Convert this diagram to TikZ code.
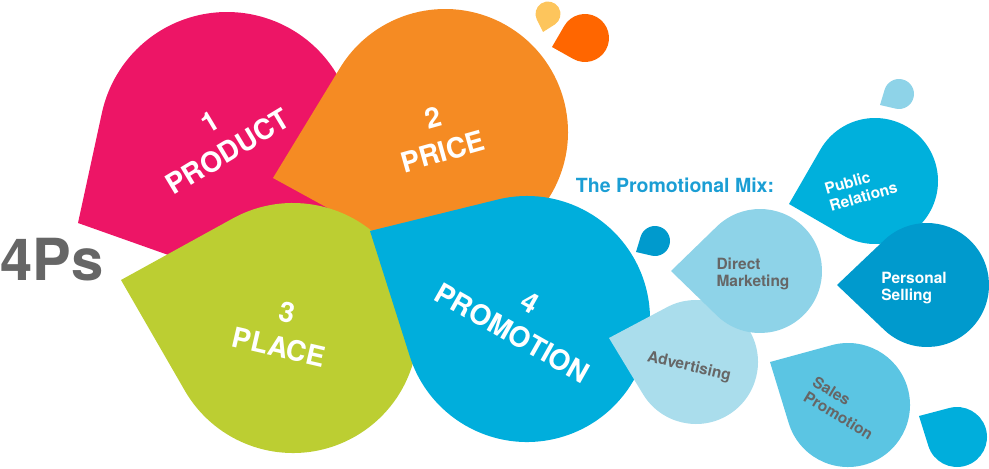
\documentclass[tikz,border=0pt]{standalone}
\usepackage{fontspec}
\setmainfont{TeX Gyre Heros}
\usetikzlibrary{calc}
\definecolor{productpink}{HTML}{ED1566}
\definecolor{priceorange}{HTML}{F58B23}
\definecolor{placegreen}{HTML}{BCCE32}
\definecolor{promoblue}{HTML}{00AEDC}
\definecolor{dropyellow}{HTML}{FDC55C}
\definecolor{droporange}{HTML}{FF6600}
\definecolor{paleblue}{HTML}{8ED3E8}
\definecolor{prblue}{HTML}{00B0DC}
\definecolor{darkblue}{HTML}{009ACD}
\definecolor{advblue}{HTML}{AADDEC}
\definecolor{salesblue}{HTML}{5BC5E3}
\definecolor{textgray}{HTML}{666666}
\definecolor{titleblue}{HTML}{1B9ED4}
\tikzstyle{bigdrop}=[text=white,font=\bfseries\fontsize{28}{35}\selectfont,align=center,inner sep=0pt]
\tikzstyle{mixdrop}=[font=\bfseries\fontsize{15.5}{17.5}\selectfont,align=left,inner sep=0pt]

\begin{document}
\begin{tikzpicture}[x=1pt,y=1pt]

\useasboundingbox (0,0) rectangle (989,469);

    % Draw the drops: circle centre, radius, tip, colour
  \foreach \cx/\cy/\r/\tx/\ty/\col in {227/329/128/78/246/productpink, 445/337/123/273/291/priceorange,
        293/141/125/121/189/placegreen, 527/150/123/370/238/promoblue,
        548/455/12.5/543/437/dropyellow, 585/431/24/552/422/droporange,
        899/375/15/880/364/paleblue, 655/228/15/636/217/darkblue,
        957/32/30/919/53/promoblue, 875/288/63/789/265/prblue,
        927/184/62/837/184/darkblue, 696/107/62/609/131/advblue,
        760/198/62/671/198/paleblue, 848/64/62/770/107/salesblue}
  {
    \pgfmathsetmacro\dd{veclen(\tx-\cx,\ty-\cy)}
    \pgfmathsetmacro\ph{atan2(\ty-\cy,\tx-\cx)}
    \pgfmathsetmacro\be{acos(\r/\dd)}
    \fill[\col] (\tx,\ty) -- ($(\cx,\cy)+(\ph+\be:\r pt)$)
        arc[start angle=\ph+\be, end angle=\ph+360-\be, radius=\r pt] -- cycle;
  }

    % The 4Ps
\node[bigdrop, rotate=31] (product) at (219,332) {1\\PRODUCT};
\node[bigdrop, rotate=15.7] (price) at (438,334) {2\\PRICE};
\node[bigdrop, rotate=-13] (place) at (283,139) {3\\PLACE};
\node[bigdrop, rotate=-29.5] (promotion) at (521,151) {4\\PROMOTION};

\node[text=textgray, font=\bfseries\fontsize{58}{60}\selectfont, inner sep=0pt] (fourps) at (52,209) {4Ps};

    % The promotional mix
\node[text=titleblue, font=\bfseries\fontsize{19.5}{22}\selectfont, inner sep=0pt] (mixtitle) at (675,284) {The Promotional Mix:};

\node[mixdrop, text=white, rotate=16] (pubrel) at (861,281) {Public\\Relations};
\node[mixdrop, text=white] (persell) at (914,181) {Personal\\Selling};
\node[mixdrop, text=textgray] (dirmark) at (753,195) {Direct\\Marketing};
\node[mixdrop, text=textgray, rotate=-13] (advert) at (689,102) {Advertising};
\node[mixdrop, text=textgray, rotate=-31] (salesprom) at (843,61) {Sales\\Promotion};

   \end{tikzpicture}
\end{document}
